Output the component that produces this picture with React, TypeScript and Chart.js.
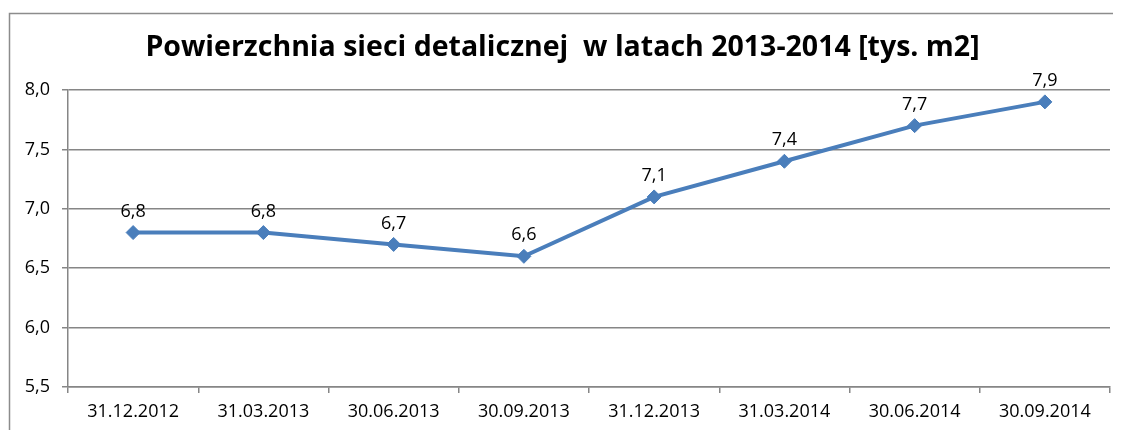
import React, { useEffect, useRef } from "react";
import { Chart, registerables } from "chart.js";

Chart.register(...registerables);

const title = "Powierzchnia sieci detalicznej  w latach 2013-2014 [tys. m2]";
const categories = [
  "31.12.2012",
  "31.03.2013",
  "30.06.2013",
  "30.09.2013",
  "31.12.2013",
  "31.03.2014",
  "30.06.2014",
  "30.09.2014",
];
const values = [6.8, 6.8, 6.7, 6.6, 7.1, 7.4, 7.7, 7.9];
const yMin = 5.5;
const yMax = 8.0;
const yStep = 0.5;

const FONT = "'Open Sans', sans-serif";
const LINE = "#4A7EBB";
const GRID = "#868686";

const fmt = (v: number) => v.toFixed(1).replace(".", ",");

const framePlugin = {
  id: "frame",
  beforeDraw(chart: any) {
    const { ctx, width, height } = chart;
    ctx.save();
    ctx.strokeStyle = "#8c8c8c";
    ctx.lineWidth = 1.5;
    ctx.beginPath();
    ctx.moveTo(1.5, height + 2);
    ctx.lineTo(1.5, 5.5);
    ctx.lineTo(width + 2, 5.5);
    ctx.stroke();
    ctx.fillStyle = "#000";
    ctx.font = `bold 28.5px ${FONT}`;
    ctx.textAlign = "center";
    ctx.textBaseline = "alphabetic";
    ctx.fillText(title, width / 2 - 2, 48);
    ctx.restore();
  },
  afterDatasetsDraw(chart: any) {
    const { ctx } = chart;
    const meta = chart.getDatasetMeta(0);
    ctx.save();
    ctx.fillStyle = "#000";
    ctx.font = `18px ${FONT}`;
    ctx.textAlign = "center";
    ctx.textBaseline = "middle";
    meta.data.forEach((pt: any, i: number) => {
      ctx.fillText(fmt(values[i]), pt.x, pt.y - 21);
    });
    ctx.restore();
  },
};

export default function App() {
  const ref = useRef<HTMLCanvasElement>(null);
  useEffect(() => {
    if (!ref.current) return;
    const chart = new Chart(ref.current, {
      type: "line",
      data: {
        labels: categories,
        datasets: [
          {
            data: values,
            borderColor: LINE,
            backgroundColor: LINE,
            borderWidth: 4,
            pointStyle: "rectRot",
            pointRadius: 7,
            pointBackgroundColor: LINE,
            pointBorderColor: LINE,
            pointBorderWidth: 1,
            tension: 0,
          },
        ],
      },
      options: {
        animation: false,
        responsive: false,
        layout: { padding: { top: 82, left: 0, right: 11, bottom: 0 } },
        plugins: {
          legend: { display: false },
          title: { display: false },
          tooltip: { enabled: false },
        },
        scales: {
          x: {
            offset: true,
            grid: {
              offset: true,
              drawOnChartArea: false,
              drawTicks: true,
              tickLength: 6,
              color: GRID,
              lineWidth: 1.5,
            },
            border: { color: GRID, width: 1.5 },
            ticks: {
              color: "#000",
              font: { family: FONT, size: 18 },
              padding: 8,
              maxRotation: 0,
            },
            afterFit(scale: any) {
              scale.height = 43;
            },
          },
          y: {
            min: yMin,
            max: yMax,
            grid: {
              color: GRID,
              lineWidth: 1.5,
              tickLength: 6,
            },
            border: { color: GRID, width: 1.5 },
            ticks: {
              stepSize: yStep,
              color: "#000",
              font: { family: FONT, size: 18 },
              padding: 12,
              callback: (v: any) => fmt(Number(v)),
            },
            afterFit(scale: any) {
              scale.width = 60;
            },
          },
        },
      },
      plugins: [framePlugin],
    });
    return () => chart.destroy();
  }, []);
  return <canvas ref={ref} width={1113} height={422} style={{ display: "block" }} />;
}
